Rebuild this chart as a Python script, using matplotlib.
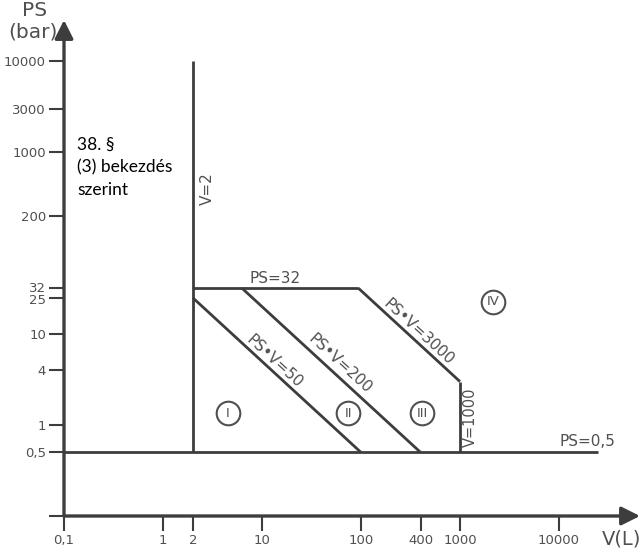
import numpy as np
import matplotlib.pyplot as plt
from matplotlib.transforms import offset_copy

# axis ticks (log-log)
x_ticks = [0.1, 1, 2, 10, 100, 400, 1000, 10000]
x_labels = ['0,1', '1', '2', '10', '100', '400', '1000', '10000']
y_ticks = [0.1, 0.5, 1, 4, 10, 25, 32, 200, 1000, 3000, 10000]
y_labels = ['', '0,5', '1', '4', '10', '25', '32', '200', '1000', '3000', '10000']

# category boundary lines: (V values, PS values)
v2_v, v2_ps = [2, 2], [0.5, 10000]
ps05_v, ps05_ps = [0.1, 25000], [0.5, 0.5]
ps32_v, ps32_ps = [2, 93.75], [32, 32]
pv50_v, pv50_ps = [2, 100], [25, 0.5]
pv200_v, pv200_ps = [6.25, 400], [32, 0.5]
pv3000_v, pv3000_ps = [93.75, 1000], [32, 3]
v1000_v, v1000_ps = [1000, 1000], [3, 0.5]

# categories
cat_names = ['I', 'II', 'III', 'IV']
cat_v = [4.5, 74, 413, 2150]
cat_ps = [1.35, 1.35, 1.35, 22.5]

LINE = '#3d3d3d'
TXT = '#505050'
xmax = 10 ** (-1 + 576 / 99)
ymax = 10 ** (-1 + 496 / 91)

fig = plt.figure(figsize=(6.43, 5.49), dpi=100)
ax = fig.add_axes([64 / 643, 33 / 549, 576 / 643, 496 / 549])
ax.set_xscale('log')
ax.set_yscale('log')
ax.set_xlim(0.1, xmax)
ax.set_ylim(0.1, ymax)
for s in ax.spines.values():
    s.set_visible(False)

ax.set_xticks(x_ticks)
ax.set_xticklabels(x_labels)
ax.set_yticks(y_ticks)
ax.set_yticklabels(y_labels)
ax.minorticks_off()
ax.tick_params(length=11, width=1.5, color=LINE, labelcolor=TXT,
               labelsize=9.5, pad=2)
# nudge the crowded 25 / 32 labels apart a little
ylabs = ax.get_yticklabels()
ylabs[5].set_transform(offset_copy(ylabs[5].get_transform(), fig=fig, y=-1.5, units='dots'))
ylabs[6].set_transform(offset_copy(ylabs[6].get_transform(), fig=fig, y=1.5, units='dots'))

arrow = dict(arrowstyle='-|>,head_length=0.4,head_width=0.2', lw=2.4,
             color=LINE, mutation_scale=28, shrinkA=0, shrinkB=0)
ax.annotate('', xy=(xmax, 0.1), xytext=(0.1, 0.1), arrowprops=arrow,
            annotation_clip=False)
ax.annotate('', xy=(0.1, ymax), xytext=(0.1, 0.1), arrowprops=arrow,
            annotation_clip=False)

for v, ps in [(v2_v, v2_ps), (ps05_v, ps05_ps), (ps32_v, ps32_ps),
              (pv50_v, pv50_ps), (pv200_v, pv200_ps),
              (pv3000_v, pv3000_ps), (v1000_v, v1000_ps)]:
    ax.plot(v, ps, color=LINE, lw=2, solid_capstyle='butt')

ang = -np.degrees(np.arctan(91 / 99))
lab = dict(color=TXT, fontsize=11, ha='center', va='center')
ax.text(13.5, 41, 'PS=32', **lab)
ax.text(13.2, 5.05, 'PS•V=50', rotation=ang, **lab)
ax.text(61.4, 4.68, 'PS•V=200', rotation=ang, **lab)
ax.text(385, 10.5, 'PS•V=3000', rotation=ang, **lab)
ax.text(1270, 1.22, 'V=1000', rotation=90, color=TXT, fontsize=10.5,
        ha='center', va='center')
ax.text(2.78, 392, 'V=2', rotation=90, **lab)
ax.text(19200, 0.667, 'PS=0,5', **lab)

ax.plot(cat_v, cat_ps, 'o', ms=17, mfc='none', mec=TXT, mew=1.5)
for n, v, ps in zip(cat_names, cat_v, cat_ps):
    ax.text(v, ps, n, color=TXT, fontsize=9.5, ha='center', va='center')

ax.text(0.135, 1480, '38. §\n(3) bekezdés\nszerint', fontsize=12.5,
        family='Lato', color='black', ha='left', va='top', linespacing=1.5)

fig.text(35 / 643, 1 - 11 / 549, 'PS', fontsize=14.5, color=TXT,
         ha='center', va='center')
fig.text(33 / 643, 1 - 32 / 549, '(bar)', fontsize=14.5, color=TXT,
         ha='center', va='center')
fig.text(622 / 643, 1 - 539 / 549, 'V(L)', fontsize=14, color=TXT,
         ha='center', va='center')

fig.savefig('out.png', dpi=100)
